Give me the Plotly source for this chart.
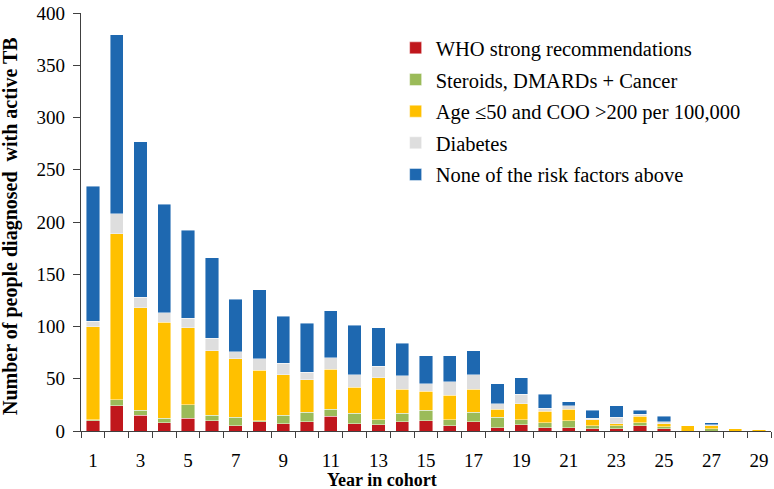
import plotly.graph_objects as go

years = list(range(1, 30))
who_strong = [10, 24, 15, 8, 12, 10, 5, 9, 7, 9, 14, 7, 6, 9, 10, 5, 9, 3, 6, 3, 3, 2, 2, 5, 2, 0, 0, 0, 0]
steroids = [1, 6, 5, 4, 13, 5, 8, 1, 8, 9, 7, 10, 5, 8, 10, 6, 9, 10, 5, 5, 7, 3, 3, 3, 2, 0, 2, 0, 0]
age_coo = [89, 159, 98, 92, 74, 62, 56, 48, 39, 31, 38, 25, 40, 23, 18, 23, 22, 8, 15, 11, 11, 6, 2, 6, 3, 5, 3, 2, 1]
diabetes = [5, 19, 10, 9, 9, 12, 7, 11, 11, 7, 11, 12, 11, 13, 7, 13, 14, 5, 9, 3, 3, 1, 6, 2, 2, 0, 1, 0, 0]
none_rf = [129, 171, 149, 104, 84, 77, 50, 66, 45, 47, 45, 47, 37, 31, 27, 25, 23, 19, 16, 13, 4, 8, 11, 4, 5, 0, 2, 0, 0]

series_names = [
    "WHO strong recommendations",
    "Steroids, DMARDs + Cancer",
    "Age \u226450 and COO >200 per 100,000",
    "Diabetes",
    "None of the risk factors above",
]
series_values = [who_strong, steroids, age_coo, diabetes, none_rf]
series_colors = ["#C0171C", "#9BBB59", "#FFC000", "#DEDEDE", "#1E68B0"]
x_tick_labels = [str(v) for v in range(1, 30, 2)]

FONT = "Liberation Serif"
AX = "#404040"

fig = go.Figure()
for i, (name, vals, col) in enumerate(zip(series_names, series_values, series_colors)):
    fig.add_trace(go.Bar(
        x=years, y=vals, name=name, legendgroup=f"g{i}",
        marker=dict(color=col, line=dict(color="rgba(255,255,255,0.55)", width=0.8)),
    ))

fig.update_layout(
    barmode="stack",
    bargap=0.44,
    width=774, height=489,
    margin=dict(l=81, r=3, t=10, b=58),
    plot_bgcolor="white", paper_bgcolor="white",
    font=dict(family=FONT, size=19, color="black"),
    showlegend=True,
    legend=dict(
        x=0.456, y=0.964, xanchor="left", yanchor="top",
        traceorder="grouped", tracegroupgap=2,
        font=dict(family=FONT, size=20.5, color="black"),
        bgcolor="rgba(0,0,0,0)", itemclick=False,
    ),
    xaxis=dict(
        range=[0.5, 29.5], tickvals=list(range(1, 30, 2)), ticktext=x_tick_labels,
        ticks="outside", ticklen=12, tickcolor="rgba(0,0,0,0)",
        showline=True, linecolor=AX, linewidth=1.3, showgrid=False, zeroline=False,
        minor=dict(tick0=0.5, dtick=1, ticks="outside", ticklen=6, tickcolor=AX, tickwidth=1.3, showgrid=False),
        tickfont=dict(size=19), ticklabeloverflow="allow",
    ),
    yaxis=dict(
        range=[0, 400], dtick=50, ticks="outside", ticklen=7, tickcolor=AX, tickwidth=1.3,
        showline=True, linecolor=AX, linewidth=1.3, showgrid=False, zeroline=False,
        tickfont=dict(size=19), ticklabelstandoff=4, ticklabeloverflow="allow",
    ),
    annotations=[
        dict(text="<b>Number of people diagnosed  with active TB</b>", xref="paper", yref="paper",
             x=0, y=0.5, xanchor="center", yanchor="middle", xshift=-71, yshift=-4,
             textangle=-90, showarrow=False, font=dict(family=FONT, size=20, color="black")),
        dict(text="<b>Year in cohort</b>", xref="paper", yref="paper",
             x=(382 - 81) / 690, y=0, xanchor="center", yanchor="middle", yshift=-49,
             showarrow=False, font=dict(family=FONT, size=18, color="black")),
    ],
)

fig.write_html(
    "out.html",
    config={"displayModeBar": False},
    post_script="document.body.style.margin='0';document.body.style.overflow='hidden';",
)
